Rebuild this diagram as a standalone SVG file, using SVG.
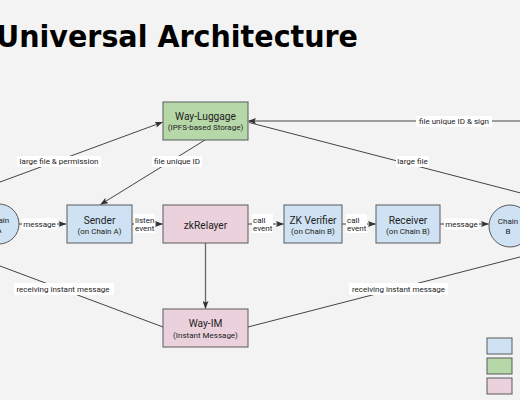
<svg xmlns="http://www.w3.org/2000/svg" width="520" height="400" viewBox="0 0 520 400">
<defs>
<marker id="arr" markerWidth="8" markerHeight="6" refX="7.5" refY="3" orient="auto" markerUnits="userSpaceOnUse">
<path d="M0,0 L8,3 L0,6 L1.5,3 z" fill="#333"/>
</marker>
<style>
.bg{fill:#f3f3f3}
.blue{fill:#cfe2f3;stroke:#5a5a5a;stroke-width:1}
.green{fill:#b6d7a8;stroke:#5a5a5a;stroke-width:1}
.pink{fill:#ead1dc;stroke:#5a5a5a;stroke-width:1}
.t1{font-family:Roboto,"Liberation Sans",sans-serif;font-size:10.2px;fill:#222;text-anchor:middle}
.t2{font-family:Roboto,"Liberation Sans",sans-serif;font-size:8px;fill:#222;text-anchor:middle}
.lb{font-family:Roboto,"Liberation Sans",sans-serif;font-size:8px;fill:#222;text-anchor:middle}
.lbl{font-family:Roboto,"Liberation Sans",sans-serif;font-size:8px;fill:#222}
.lbox{fill:#ffffff}
.ln{fill:none;stroke:#444;stroke-width:1}
.title{font-family:Verdana,"DejaVu Sans",sans-serif;font-weight:bold;font-size:30px;fill:#000}
</style>
</defs>
<rect class="bg" x="0" y="0" width="520" height="400"/>
<text class="title" x="-4" y="47" textLength="362" lengthAdjust="spacingAndGlyphs">Universal Architecture</text>

<g id="connectors">
<line class="ln" x1="19" y1="224" x2="66" y2="224" marker-end="url(#arr)"/>
<line class="ln" x1="132" y1="224" x2="162.5" y2="224" marker-end="url(#arr)"/>
<line class="ln" x1="248" y1="224" x2="283.5" y2="224" marker-end="url(#arr)"/>
<line class="ln" x1="342" y1="224" x2="375.5" y2="224" marker-end="url(#arr)"/>
<line class="ln" x1="440" y1="224" x2="488.5" y2="224" marker-end="url(#arr)"/>
<line class="ln" x1="205.5" y1="243" x2="205.5" y2="308.5" style="stroke:#666;stroke-width:1.3" marker-end="url(#arr)"/>
<line class="ln" x1="205" y1="140" x2="100.5" y2="204.5" marker-end="url(#arr)"/>
<line class="ln" x1="-20" y1="189.4" x2="162.5" y2="122.2" marker-end="url(#arr)"/>
<line class="ln" x1="540" y1="121" x2="248.5" y2="121" marker-end="url(#arr)"/>
<line class="ln" x1="249" y1="122.5" x2="540" y2="198"/>
<line class="ln" x1="-20" y1="258.5" x2="163" y2="327"/>
<line class="ln" x1="248" y1="327" x2="540" y2="251.8"/>

<rect class="lbox" x="22" y="218.5" width="35" height="11"/>
<text class="lb" x="39.5" y="226.8">message</text>
<rect class="lbox" x="134" y="214" width="21" height="19"/>
<text class="lbl" x="135" y="222.5">listen</text>
<text class="lbl" x="135" y="231">event</text>
<rect class="lbox" x="252" y="214" width="21" height="19"/>
<text class="lbl" x="253" y="222.5">call</text>
<text class="lbl" x="253" y="231">event</text>
<rect class="lbox" x="346" y="214" width="21" height="19"/>
<text class="lbl" x="347" y="222.5">call</text>
<text class="lbl" x="347" y="231">event</text>
<rect class="lbox" x="444" y="218.5" width="35" height="11"/>
<text class="lb" x="461.5" y="226.8">message</text>
<rect class="lbox" x="17" y="156" width="84" height="11"/>
<text class="lb" x="59" y="164.2">large file &amp; permission</text>
<rect class="lbox" x="152" y="156" width="50" height="11"/>
<text class="lb" x="177" y="164.2">file unique ID</text>
<rect class="lbox" x="416" y="116" width="76" height="11"/>
<text class="lb" x="454" y="124.2">file unique ID &amp; sign</text>
<rect class="lbox" x="396" y="156" width="33" height="11"/>
<text class="lb" x="412.5" y="164.2">large file</text>
<rect class="lbox" x="14" y="283" width="100" height="12"/>
<text class="lb" x="63" y="292">receiving instant message</text>
<rect class="lbox" x="349" y="283" width="99" height="12"/>
<text class="lb" x="398.5" y="292">receiving instant message</text>
</g>

<g id="way-luggage">
<rect class="green" x="163" y="102" width="85" height="38"/>
<text class="t1" x="205.5" y="120">Way-Luggage</text>
<text class="t2" x="205.5" y="130">(IPFS-based Storage)</text>
</g>
<g id="chain-a">
<circle class="blue" cx="-1" cy="224" r="20"/>
<text class="t2" x="-1" y="223">Chain</text>
<text class="t2" x="-1" y="233">A</text>
</g>
<g id="sender">
<rect class="blue" x="67" y="205" width="65" height="38"/>
<text class="t1" x="99.5" y="224">Sender</text>
<text class="t2" x="99.5" y="234">(on Chain A)</text>
</g>
<g id="zkrelayer">
<rect class="pink" x="163" y="205" width="85" height="38"/>
<text class="t1" x="205.5" y="228.5">zkRelayer</text>
</g>
<g id="zk-verifier">
<rect class="blue" x="284" y="205" width="58" height="38"/>
<text class="t1" x="313" y="224">ZK Verifier</text>
<text class="t2" x="313" y="234">(on Chain B)</text>
</g>
<g id="receiver">
<rect class="blue" x="376" y="205" width="64" height="38"/>
<text class="t1" x="408" y="224">Receiver</text>
<text class="t2" x="408" y="234">(on Chain B)</text>
</g>
<g id="chain-b">
<circle class="blue" cx="510" cy="226" r="21"/>
<text class="t2" x="508" y="223.5">Chain</text>
<text class="t2" x="508" y="233.5">B</text>
</g>
<g id="way-im">
<rect class="pink" x="163" y="309" width="85" height="38"/>
<text class="t1" x="205.5" y="327">Way-IM</text>
<text class="t2" x="205.5" y="337.5">(Instant Message)</text>
</g>
<g id="legend">
<rect class="blue" x="487" y="338" width="25" height="16"/>
<rect class="green" x="487" y="358" width="25" height="16"/>
<rect class="pink" x="487" y="378" width="25" height="16"/>
</g>
</svg>
